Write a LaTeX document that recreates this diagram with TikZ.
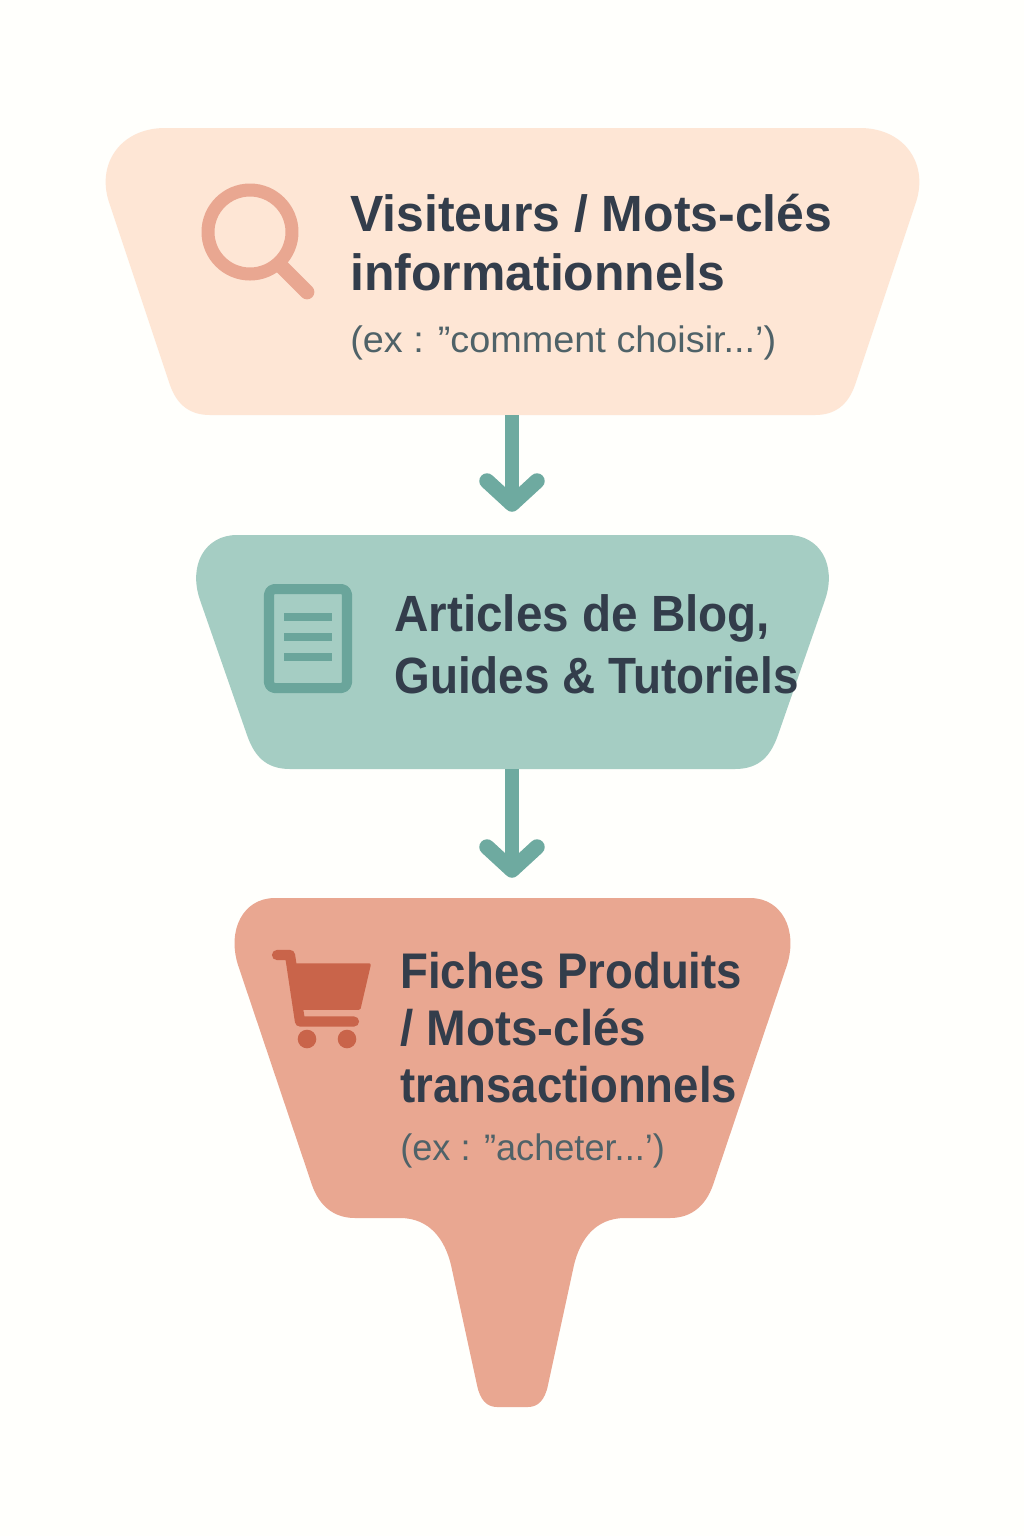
\documentclass[tikz,border=0pt]{standalone}
\usepackage{fontspec}
\setmainfont{Liberation Sans}
\newfontfamily\visitorsfont[FakeStretch=0.98]{Liberation Sans}
\newfontfamily\articlesfont[FakeStretch=0.90]{Liberation Sans}
\newfontfamily\blogfont[FakeStretch=0.935]{Liberation Sans}
\newfontfamily\productsfont[FakeStretch=0.91]{Liberation Sans}
\newfontfamily\keywordsfont[FakeStretch=0.95]{Liberation Sans}
\newfontfamily\visitorsexfont[FakeStretch=1.025]{Liberation Sans}
\newfontfamily\productsexfont[FakeStretch=0.98]{Liberation Sans}
\definecolor{peach}{HTML}{FEE6D5}
\definecolor{teal}{HTML}{A5CDC3}
\definecolor{salmon}{HTML}{E9A791}
\definecolor{arrowteal}{HTML}{6EAAA0}
\definecolor{docteal}{HTML}{6AA59B}
\definecolor{cartred}{HTML}{C9644A}
\definecolor{titleink}{HTML}{333D4B}
\definecolor{subink}{HTML}{4F6268}
\tikzset{
	titletext/.style={anchor=base west, inner sep=0pt, align=left, text=titleink},
	subtext/.style={anchor=base west, inner sep=0pt, text=subink},
	flowline/.style={draw=arrowteal, line width=8.5pt},
	flowhead/.style={draw=arrowteal, line width=8.8pt, line cap=round, line join=round}
}
\begin{document}
\begin{tikzpicture}[x=0.02cm, y=-0.02cm, line cap=round, line join=round]
		\useasboundingbox (0,0) rectangle (1024,1536);
		\fill[white!99!yellow] (0,0) rectangle (1024,1536);
		% funnel shapes
		\fill[peach] (165,128)--(860,128) .. controls (905,128) and (930,165) .. (915,205)--(855,385) .. controls (848,405) and (835,415) .. (815,415)--(210,415) .. controls (190,415) and (177,405) .. (170,385)--(110,205) .. controls (95,165) and (120,128) .. (165,128)--cycle;
		\fill[teal] (237,535)--(788,535) .. controls (820,535) and (837,565) .. (825,600)--(778,735) .. controls (771,755) and (760,769) .. (735,769)--(290,769) .. controls (265,769) and (254,755) .. (247,735)--(200,600) .. controls (188,565) and (205,535) .. (237,535)--cycle;
		\fill[salmon] (275,898)--(750,898) .. controls (782,898) and (798,930) .. (787,965)--(713,1185) .. controls (706,1205) and (692,1218) .. (670,1218)--(625,1218) .. controls (595,1218) and (580,1240) .. (574,1265)--(548,1385) .. controls (545,1400) and (538,1407) .. (528,1407)--(497,1407) .. controls (487,1407) and (480,1400) .. (477,1385)--(451,1265) .. controls (445,1240) and (430,1218) .. (400,1218)--(355,1218) .. controls (333,1218) and (319,1205) .. (312,1185)--(238,965) .. controls (227,930) and (243,898) .. (275,898)--cycle;
		% coordinates for the arrows
		\coordinate (topout) at (512,415);
		\coordinate (midtip) at (512,504);
		\coordinate (midleft) at (487,481);
		\coordinate (midright) at (537,481);
		\coordinate (midout) at (512,769);
		\coordinate (lowtip) at (512,870);
		\coordinate (lowleft) at (487,847);
		\coordinate (lowright) at (537,847);
		\draw[flowline, line cap=butt] (topout)--(midtip);
		\draw[flowhead] (midleft)--(midtip)--(midright);
		\draw[flowline, line cap=butt] (midout)--(lowtip);
		\draw[flowhead] (lowleft)--(lowtip)--(lowright);
		% magnifier
		\draw[salmon, line width=7.4pt] (250,232) circle (42);
		\draw[salmon, line width=8.4pt] (280,265)--(307,292);
		% document
		\draw[docteal, line width=5.7pt, rounded corners=3pt] (269,589) rectangle (347,688);
		\foreach \y in {617,637,657}
			\fill[docteal] (284,\y-4) rectangle (332,\y+4);
		% cart
		\draw[cartred, line width=5.8pt] (277,955)--(290,955)--(300,1021.5)--(354,1021.5);
		\fill[cartred, draw=cartred, line width=2pt] (294,965)--(369,965)--(359,1008)--(303,1008)--cycle;
		\fill[cartred] (307,1039) circle (9.3) (347,1039) circle (9.3);
		% texts
		\node[titletext, font=\fontsize{29}{33.5}\visitorsfont\bfseries] (visitors) at (350,290) {Visiteurs / Mots-clés\\informationnels};
		\node[subtext, font=\fontsize{21}{25}\visitorsexfont] (visitorsex) at (350,352) {(ex : ”comment choisir...’)};
		\node[titletext, font=\fontsize{29}{35.2}\articlesfont\bfseries] (articles) at (394,693) {{\blogfont Articles de Blog,}\\Guides \& Tutoriels};
		\node[titletext, font=\fontsize{28.5}{32.4}\productsfont\bfseries] (products) at (400,1102) {Fiches Produits\\{\keywordsfont / Mots-clés}\\transactionnels};
		\node[subtext, font=\fontsize{21}{25}\productsexfont] (productsex) at (400,1160) {(ex : ”acheter...’)};
\end{tikzpicture}
\end{document}
